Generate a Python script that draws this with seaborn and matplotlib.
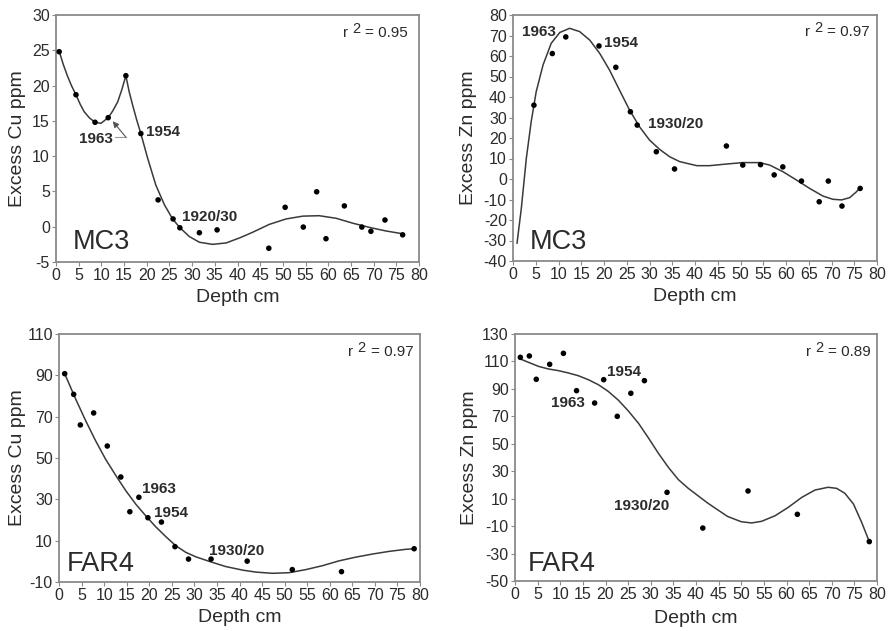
import matplotlib
matplotlib.use("Agg")
import matplotlib.pyplot as plt
import numpy as np
import pandas as pd
import seaborn as sns

# ---------------- data ----------------
depth_ticks = list(range(0, 81, 5))

# MC3 Cu
mc3_cu_x = [0.7, 4.4, 8.6, 11.5, 15.4, 18.7, 22.5, 25.8, 27.3, 31.6, 35.5, 46.9, 50.5, 54.5,
            57.45, 59.5, 63.55, 67.4, 69.4, 72.5, 76.4]
mc3_cu_y = [24.8, 18.7, 14.8, 15.45, 21.4, 13.2, 3.8, 1.1, -0.15, -0.85, -0.45, -3.05, 2.75, -0.05,
            4.95, -1.7, 2.95, -0.05, -0.65, 0.95, -1.15]
mc3_cu_fit_x = [0.73, 1.6, 2.5, 3.4, 4.4, 5.3, 6.2, 7.4, 8.6, 9.9, 11.5, 12.5, 13.6, 14.5, 15.4,
                16.1, 16.9, 17.8, 18.7, 20.2, 22.0, 23.9, 25.7, 27.3, 29.4, 31.6, 34.5, 37.5, 40.6,
                43.3, 47.0, 50.7, 54.4, 58.0, 61.7, 65.4, 69.1, 72.7, 76.4]
mc3_cu_fit_y = [24.8, 23.0, 21.4, 20.0, 18.7, 17.4, 16.3, 15.4, 14.8, 14.65, 15.45, 16.4, 17.7, 19.4,
                21.4, 19.2, 17.2, 15.1, 13.2, 9.7, 5.9, 3.1, 1.1, -0.14, -1.4, -2.2, -2.5, -2.3,
                -1.55, -0.8, 0.33, 1.1, 1.5, 1.56, 1.2, 0.5, -0.1, -0.6, -1.0]

# MC3 Zn
mc3_zn_x = [4.6, 8.64, 11.6, 18.9, 22.6, 25.8, 27.3, 31.5, 35.5, 46.9, 50.5, 54.4, 57.4, 59.3,
            63.4, 67.3, 69.3, 72.3, 76.3]
mc3_zn_y = [36.0, 61.2, 69.3, 64.9, 54.5, 32.8, 26.3, 13.3, 4.9, 16.1, 6.8, 7.0, 2.0, 5.9,
            -1.0, -11.1, -1.0, -13.2, -4.6]
mc3_zn_fit_x = [0.88, 1.83, 2.93, 4.0, 5.1, 6.6, 8.4, 10.3, 12.45, 14.65, 16.85, 19.05, 21.2, 23.4,
                25.6, 27.8, 30.0, 32.2, 34.4, 36.6, 40.4, 43.2, 46.9, 50.5, 54.2, 56.4, 59.3, 62.3,
                65.2, 68.1, 70.3, 72.2, 74.0, 75.5, 76.3]
mc3_zn_fit_y = [-31.4, -14.3, 10.1, 28.0, 42.6, 55.6, 66.2, 71.5, 73.5, 71.9, 67.8, 61.3, 53.2, 43.4,
                33.7, 25.5, 19.0, 14.5, 10.9, 8.5, 6.5, 6.5, 7.3, 8.0, 8.0, 6.8, 3.6, -0.5,
                -4.6, -8.3, -9.9, -10.2, -9.1, -6.2, -4.2]

# FAR4 Cu
far4_cu_x = [1.26, 3.25, 4.73, 7.68, 10.7, 13.7, 15.7, 17.7, 19.7, 22.7, 25.7, 28.7, 33.7, 41.7,
             51.7, 62.6, 78.7]
far4_cu_y = [90.8, 80.8, 66.0, 71.8, 55.8, 40.8, 24.0, 31.0, 21.1, 19.0, 7.1, 1.1, 1.1, 0.1,
             -4.0, -5.0, 6.1]
far4_cu_fit_x = [1.26, 3.7, 5.9, 8.1, 10.3, 12.6, 14.8, 17.0, 19.2, 21.4, 23.6, 25.85, 28.1, 30.3,
                 33.7, 36.9, 40.8, 43.6, 47.3, 51.0, 54.7, 58.4, 62.0, 65.7, 69.4, 73.1, 76.8, 78.7]
far4_cu_fit_y = [90.8, 78.5, 68.1, 58.4, 49.5, 41.5, 34.2, 27.7, 22.1, 16.8, 12.1, 7.6, 4.35, 2.2,
                 -0.3, -2.5, -4.3, -5.2, -5.8, -5.5, -4.0, -2.1, 0.2, 2.0, 3.5, 4.8, 5.8, 6.1]

# FAR4 Zn
far4_zn_x = [1.18, 3.17, 4.7, 7.66, 10.7, 13.6, 17.6, 19.6, 22.6, 25.6, 28.6, 33.6, 41.5, 51.5,
             62.4, 78.3]
far4_zn_y = [113.0, 114.0, 97.0, 107.9, 115.9, 88.7, 79.7, 96.7, 70.0, 86.8, 96.0, 14.6, -11.4, 15.6,
             -1.4, -21.3]
far4_zn_fit_x = [1.18, 2.95, 5.2, 7.4, 9.6, 11.8, 14.0, 16.2, 18.4, 20.6, 22.8, 25.0, 27.3, 29.5,
                 31.7, 33.9, 36.1, 38.3, 40.5, 42.5, 44.5, 47.0, 50.0, 52.3, 54.5, 57.5, 60.4, 63.4,
                 66.3, 69.2, 71.1, 72.9, 74.8, 76.6, 78.3]
far4_zn_fit_y = [111.8, 109.4, 106.4, 104.5, 103.3, 101.6, 99.6, 96.7, 93.1, 88.2, 81.9, 74.1, 64.9,
                 54.2, 43.0, 32.8, 23.9, 17.5, 12.0, 7.0, 2.5, -3.0, -6.8, -7.7, -6.5, -2.4, 3.7,
                 11.0, 16.3, 18.3, 17.5, 13.9, 6.1, -7.2, -21.3]

ylabels = ["Excess Cu ppm", "Excess Zn ppm", "Excess Cu ppm", "Excess Zn ppm"]
core_names = ["MC3", "MC3", "FAR4", "FAR4"]
r2_values = ["0.95", "0.97", "0.97", "0.89"]
y_ticks = [list(range(-5, 31, 5)), list(range(-40, 81, 10)),
           list(range(-10, 111, 20)), list(range(-50, 131, 20))]

# ---------------- style ----------------
sns.set_theme(style="white")
plt.rcParams["font.family"] = ["Liberation Sans", "DejaVu Sans"]

TXT = "#2b2b2b"
SPINE = "#8a8a8a"

fig = plt.figure(figsize=(8.88, 6.31), dpi=100)
fig.patch.set_facecolor("white")

positions = [
    (56 / 888, 1 - 262 / 631, 363 / 888, 247 / 631),
    (513 / 888, 1 - 261 / 631, 364 / 888, 246 / 631),
    (59 / 888, 1 - 582 / 631, 361 / 888, 248 / 631),
    (515 / 888, 1 - 581 / 631, 362 / 888, 247 / 631),
]
ylabel_x = [-0.107, -0.121, -0.116, -0.127]
xlabel_y = [-0.142, -0.146, -0.145, -0.150]
name_pos = [(0.047, 0.081), (0.046, 0.077), (0.022, 0.073), (0.036, 0.069)]
r2_pos = [(0.970, 0.927), (0.981, 0.931), (0.981, 0.927), (0.983, 0.927)]

series = [
    (mc3_cu_x, mc3_cu_y, mc3_cu_fit_x, mc3_cu_fit_y),
    (mc3_zn_x, mc3_zn_y, mc3_zn_fit_x, mc3_zn_fit_y),
    (far4_cu_x, far4_cu_y, far4_cu_fit_x, far4_cu_fit_y),
    (far4_zn_x, far4_zn_y, far4_zn_fit_x, far4_zn_fit_y),
]

axes = []
for i, (px, py, fx, fy) in enumerate(series):
    ax = fig.add_axes(positions[i])
    axes.append(ax)
    fit_df = pd.DataFrame({"depth": fx, "value": fy})
    pts_df = pd.DataFrame({"depth": px, "value": py})
    sns.lineplot(data=fit_df, x="depth", y="value", ax=ax, color="#3a3a3a",
                 linewidth=1.1, sort=False, estimator=None)
    sns.scatterplot(data=pts_df, x="depth", y="value", ax=ax, color="black",
                    s=16, edgecolor="none", zorder=3)
    yt = y_ticks[i]
    ax.set_xlim(0, 80)
    ax.set_ylim(yt[0], yt[-1])
    ax.set_xticks(depth_ticks)
    ax.set_yticks(yt)
    ax.set_xticklabels([str(t) for t in depth_ticks])
    ax.set_yticklabels([str(t) for t in yt])
    ax.tick_params(axis="both", labelsize=11.5, colors=TXT, direction="out",
                   length=3, width=0.8, pad=1.5, bottom=True, left=True)
    ax.tick_params(axis="both", color=SPINE)
    for sp in ax.spines.values():
        sp.set_color(SPINE)
        sp.set_linewidth(1.3)
        sp.set_visible(True)
    ax.set_xlabel("Depth cm", fontsize=14, color=TXT, va="center")
    ax.set_ylabel(ylabels[i], fontsize=14, color=TXT, va="center")
    ax.xaxis.set_label_coords(0.5, xlabel_y[i])
    ax.yaxis.set_label_coords(ylabel_x[i], 0.5)
    ax.text(name_pos[i][0], name_pos[i][1], core_names[i], transform=ax.transAxes,
            fontsize=19.5, color=TXT, ha="left", va="center")
    # r^2 label: "r", raised "2", "= value"
    t_eq = ax.text(r2_pos[i][0], r2_pos[i][1], "= " + r2_values[i], transform=ax.transAxes,
                   fontsize=11, color=TXT, ha="right", va="center")
    t_2 = ax.annotate("2", xy=(0, 0.5), xycoords=t_eq, xytext=(-3.5, 3.0),
                      textcoords="offset points", fontsize=10.5, color=TXT,
                      ha="right", va="center")
    ax.annotate("r", xy=(0, 0.5), xycoords=t_2, xytext=(-3.0, -3.0),
                textcoords="offset points", fontsize=11, color=TXT,
                ha="right", va="center")

bold = dict(fontsize=11, fontweight="bold", color=TXT, va="center", ha="left")

# MC3 Cu annotations
a = axes[0]
a.text(5.0, 12.43, "1963", **bold)
a.text(19.83, 13.37, "1954", **bold)
a.text(27.77, 1.42, "1920/30", **bold)
a.plot([13.07, 15.43], [12.67, 12.67], color="#9a9a9a", lw=0.8)
a.annotate("", xy=(12.5, 14.95), xytext=(15.43, 12.67),
           arrowprops=dict(arrowstyle="-|>", color="#555555", lw=0.8, mutation_scale=9,
                           shrinkA=0, shrinkB=0))

# MC3 Zn annotations
a = axes[1]
a.text(2.0, 71.9, "1963", **bold)
a.text(19.9, 66.2, "1954", **bold)
a.text(29.7, 26.7, "1930/20", **bold)

# FAR4 Cu annotations
a = axes[2]
a.text(18.5, 35.0, "1963", **bold)
a.text(21.05, 23.2, "1954", **bold)
a.text(33.2, 5.2, "1930/20", **bold)

# FAR4 Zn annotations
a = axes[3]
a.text(7.96, 79.7, "1963", **bold)
a.text(20.3, 102.1, "1954", **bold)
a.text(21.9, 4.9, "1930/20", **bold)

fig.savefig("out.png", dpi=100, facecolor="white")
